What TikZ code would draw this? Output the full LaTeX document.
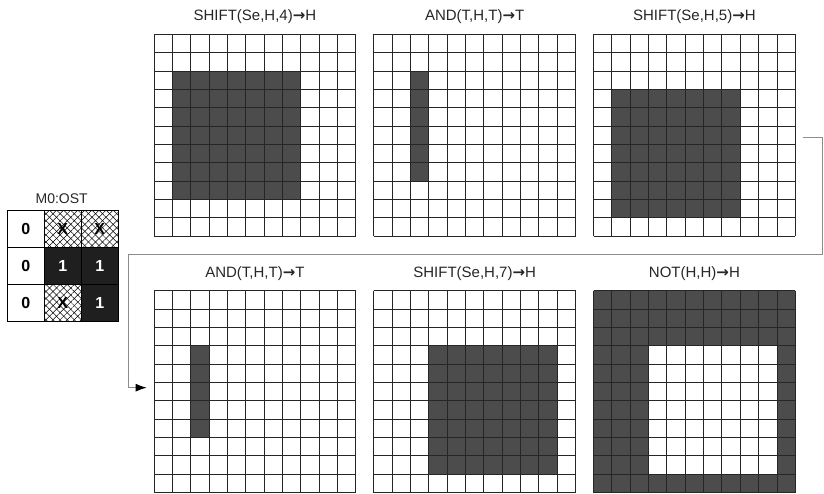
\documentclass[tikz,border=0pt]{standalone}
\usepackage{fontspec}
\setmainfont{Liberation Sans}
\newfontfamily\arrowfont{DejaVu Sans}
\newcommand{\yields}{{\arrowfont\bfseries →}}
\usetikzlibrary{positioning,arrows.meta,patterns.meta}
\definecolor{CellClr}{rgb}{0.3,0.3,0.3}
\definecolor{LineClr}{rgb}{0.15,0.15,0.15}
\definecolor{LinkClr}{rgb}{0.55,0.55,0.55}

\begin{document}
\begin{tikzpicture}[x=1pt,y=-1pt,
  gridbox/.style={minimum size=201.85pt,inner sep=0pt,outer sep=0pt},
  cells/.style={shift={(#1.north west)},x=18.35pt,y=-18.35pt},
  lit/.style={fill=CellClr},
  gridline/.style={LineClr,line width=0.95pt},
  lbl/.style={font=\fontsize{15}{17}\selectfont,text=black!85,anchor=base},
  ost/.style={draw,line width=0.8pt,minimum size=37pt,inner sep=0pt,
    font=\fontsize{16}{18}\selectfont\bfseries},
  zero/.style={ost,fill=white},
  one/.style={ost,fill=black!88,text=white},
  dc/.style={ost,pattern={Lines[angle=45,distance=5pt,line width=0.5pt]},
    postaction={pattern={Lines[angle=-45,distance=5pt,line width=0.5pt]}}},
  link/.style={LinkClr,line width=1pt,-{Latex[black,length=11pt,width=8pt]}}]

\useasboundingbox (0,0) rectangle (824,493);

% the six bitmaps
\node[gridbox] (g1) at (254.925,135.225) {};
\node[gridbox,right=17.9pt of g1] (g2) {};
\node[gridbox,right=17.9pt of g2] (g3) {};
\node[gridbox,below=54.5pt of g1] (g4) {};
\node[gridbox,right=17.9pt of g4] (g5) {};
\node[gridbox,right=17.9pt of g5] (g6) {};

\node[lbl] (l1) at ([yshift=13.5pt]g1.north) {SHIFT(Se,H,4)\yields H};
\node[lbl] (l2) at ([yshift=13.5pt]g2.north) {AND(T,H,T)\yields T};
\node[lbl] (l3) at ([yshift=13.5pt]g3.north) {SHIFT(Se,H,5)\yields H};
\node[lbl] (l4) at ([yshift=13.5pt]g4.north) {AND(T,H,T)\yields T};
\node[lbl] (l5) at ([yshift=13.5pt]g5.north) {SHIFT(Se,H,7)\yields H};
\node[lbl] (l6) at ([yshift=13.5pt]g6.north) {NOT(H,H)\yields H};

\fill[lit,cells=g1] (1,2) rectangle (8,9);
\fill[lit,cells=g2] (2,2) rectangle (3,8);
\fill[lit,cells=g3] (1,3) rectangle (8,10);
\fill[lit,cells=g4] (2,3) rectangle (3,8);
\fill[lit,cells=g5] (3,3) rectangle (10,10);
\fill[lit,cells=g6,even odd rule] (0,0) rectangle (11,11) (3,3) rectangle (10,10);

\foreach \g in {g1,g2,g3,g4,g5,g6}{
  \begin{scope}[cells=\g]
    \foreach \k in {0,...,11}{
      \draw[gridline] (\k,0) -- (\k,11);
      \draw[gridline] (0,\k) -- (11,\k);
    }
  \end{scope}
}

% wrap-around link
\coordinate (bendR) at (822.8,254.3);
\coordinate (bendL) at (128.3,254.3);
\draw[link] ([xshift=8pt,yshift=-2.1pt]g3.east) -| (bendR) -- (bendL)
  |- ([xshift=-7.3pt,yshift=3.9pt]g4.west);

% the OST table
\node[lbl,font=\fontsize{14}{16}\selectfont] (ostlbl) at (61.7,203.3) {M0:OST};
\node[zero] (o11) at (25.8,229.2) {0};
\node[dc]   (o12) at (62.8,229.2) {X};
\node[dc]   (o13) at (99.8,229.2) {X};
\node[zero] (o21) at (25.8,266.2) {0};
\node[one]  (o22) at (62.8,266.2) {1};
\node[one]  (o23) at (99.8,266.2) {1};
\node[zero] (o31) at (25.8,303.2) {0};
\node[dc]   (o32) at (62.8,303.2) {X};
\node[one]  (o33) at (99.8,303.2) {1};

\end{tikzpicture}
\end{document}
